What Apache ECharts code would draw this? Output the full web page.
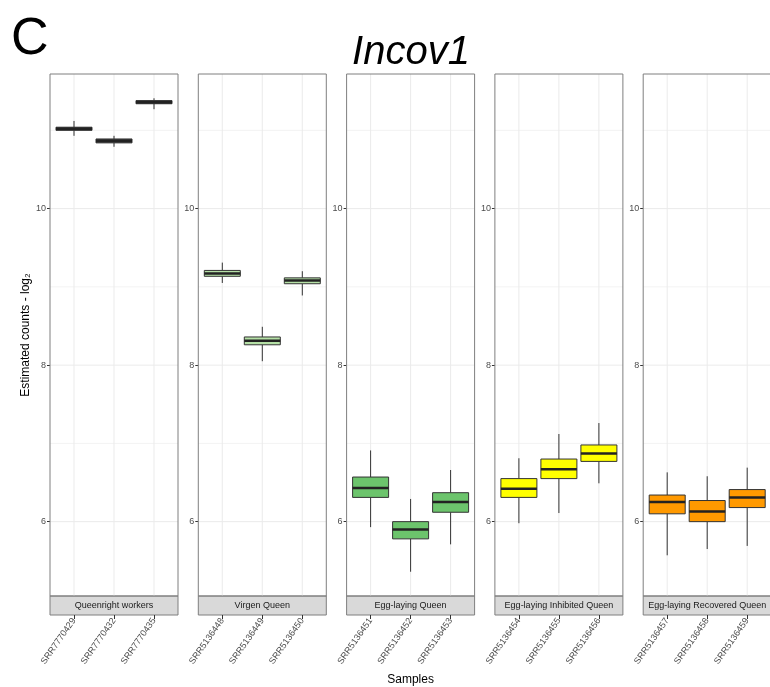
<!DOCTYPE html>
<html>
<head>
  <meta charset="utf-8">
  <title>Incov1</title>
  <style>
    html, body {
      margin: 0;
      padding: 0;
      background: #fff;
    }

    #chart {
      width: 770px;
      height: 687px;
    }
  </style>
</head>

<body>
  <div id="chart"></div>
</body>
<script src="https://cdn.jsdelivr.net/npm/echarts@6/dist/echarts.min.js"></script>
<script>
  var groups = ['Queenright workers', 'Virgen Queen', 'Egg-laying Queen', 'Egg-laying Inhibited Queen', 'Egg-laying Recovered Queen'];
  var samples = [
    ['SRR7770429', 'SRR7770432', 'SRR7770435'],
    ['SRR5136448', 'SRR5136449', 'SRR5136450'],
    ['SRR5136451', 'SRR5136452', 'SRR5136453'],
    ['SRR5136454', 'SRR5136455', 'SRR5136456'],
    ['SRR5136457', 'SRR5136458', 'SRR5136459']
  ];
  // min, Q1, median, Q3, max
  var queenrightWorkers = [
    [10.93, 11.00, 11.02, 11.04, 11.12],
    [10.79, 10.84, 10.865, 10.89, 10.93],
    [11.27, 11.34, 11.36, 11.38, 11.41]
  ];
  var virgenQueen = [
    [9.05, 9.135, 9.17, 9.21, 9.31],
    [8.05, 8.26, 8.31, 8.36, 8.49],
    [8.89, 9.04, 9.08, 9.115, 9.20]
  ];
  var eggLayingQueen = [
    [5.93, 6.31, 6.43, 6.57, 6.91],
    [5.36, 5.78, 5.90, 6.00, 6.29],
    [5.71, 6.12, 6.25, 6.37, 6.66]
  ];
  var eggLayingInhibited = [
    [5.98, 6.31, 6.42, 6.55, 6.81],
    [6.11, 6.55, 6.67, 6.80, 7.12],
    [6.49, 6.77, 6.87, 6.98, 7.26]
  ];
  var eggLayingRecovered = [
    [5.57, 6.10, 6.25, 6.34, 6.63],
    [5.65, 6.00, 6.13, 6.27, 6.58],
    [5.69, 6.18, 6.31, 6.41, 6.69]
  ];
  var boxStats = [queenrightWorkers, virgenQueen, eggLayingQueen, eggLayingInhibited, eggLayingRecovered];
  var fills = ['#3d3d3d', '#b5e0a6', '#6cc46c', '#ffff00', '#ff9900'];
  var yMin = 5.05;
  var yMax = 11.72;
  var majorBreaks = [6, 8, 10];
  var minorBreaks = [7, 9, 11];

  var chart = echarts.init(document.getElementById('chart'));
  var font = 'Liberation Sans, Arial, sans-serif';
  var panelLeft = 50, panelStep = 148.3, panelWidth = 128;
  var panelTop = 74, panelHeight = 522, stripHeight = 19;
  // ggplot expands a discrete axis by 0.6 of a step, echarts by 0.5: pad the grid inside the frame
  var pad = panelWidth / 3.2 * 0.1;
  var frame = '#7f7f7f';

  // box + whiskers + median, ggplot style (no whisker caps)
  function renderBox(params, api) {
    var x = api.value(0);
    var low = api.coord([x, api.value(1)]);
    var q1 = api.coord([x, api.value(2)]);
    var med = api.coord([x, api.value(3)]);
    var q3 = api.coord([x, api.value(4)]);
    var high = api.coord([x, api.value(5)]);
    var cs = params.coordSys;
    var half = 18;
    return {
      type: 'group',
      children: [
        { type: 'line', shape: { x1: low[0], y1: cs.y, x2: low[0], y2: cs.y + cs.height }, style: { stroke: '#ebebeb', lineWidth: 1 } },
        { type: 'line', shape: { x1: high[0], y1: high[1], x2: q3[0], y2: q3[1] }, style: { stroke: '#333', lineWidth: 1 } },
        { type: 'line', shape: { x1: q1[0], y1: q1[1], x2: low[0], y2: low[1] }, style: { stroke: '#333', lineWidth: 1 } },
        { type: 'rect', shape: { x: q3[0] - half, y: q3[1], width: half * 2, height: q1[1] - q3[1] }, style: { fill: api.visual('color'), stroke: '#333', lineWidth: 1 } },
        { type: 'line', shape: { x1: med[0] - half, y1: med[1], x2: med[0] + half, y2: med[1] }, style: { stroke: '#222', lineWidth: 2.5 } }
      ]
    };
  }

  // horizontal grid lines across the whole frame
  function renderHLine(params, api) {
    var p = api.coord([0, api.value(1)]);
    var cs = params.coordSys;
    var major = api.value(2) == 1;
    return {
      type: 'line',
      shape: { x1: cs.x - pad, y1: p[1], x2: cs.x + cs.width + pad, y2: p[1] },
      style: { stroke: major ? '#ebebeb' : '#f3f3f3', lineWidth: 1 }
    };
  }

  var hLines = majorBreaks.map(function (v) { return [0, v, 1]; })
    .concat(minorBreaks.map(function (v) { return [0, v, 0]; }));

  var grids = [], xAxes = [], yAxes = [], series = [], graphics = [];
  groups.forEach(function (name, i) {
    var left = panelLeft + i * panelStep;
    grids.push({
      left: left + pad, top: panelTop, width: panelWidth - 2 * pad, height: panelHeight,
      outerBoundsMode: 'none', containLabel: false, show: false
    });
    xAxes.push({
      type: 'category', gridIndex: i, data: samples[i], position: 'bottom', offset: stripHeight,
      axisLine: { show: false },
      axisTick: { show: true, alignWithLabel: true, length: 4, lineStyle: { color: '#333' } },
      axisLabel: { rotate: 55, fontSize: 9, color: '#4d4d4d', fontFamily: font, margin: 4, interval: 0 },
      splitLine: { show: false },
      name: i == 2 ? 'Samples' : '', nameLocation: 'middle', nameGap: 58,
      nameTextStyle: { fontSize: 12, color: '#000', fontFamily: font }
    });
    yAxes.push({
      type: 'value', gridIndex: i, min: yMin, max: yMax, splitNumber: 3, offset: pad,
      axisLine: { show: false },
      axisTick: { show: true, length: 3, lineStyle: { color: '#333' } },
      axisLabel: { fontSize: 9, color: '#4d4d4d', fontFamily: font, margin: 4, showMinLabel: false, showMaxLabel: false },
      splitLine: { show: false },
      name: i == 0 ? 'Estimated counts - log\u2082' : '', nameLocation: 'middle', nameGap: 17, nameRotate: 90,
      nameTextStyle: { fontSize: 12, color: '#000', fontFamily: font }
    });
    series.push({
      type: 'custom', xAxisIndex: i, yAxisIndex: i, z: 1, silent: true,
      renderItem: renderHLine,
      data: hLines,
      encode: { x: 0, y: 1 }
    });
    series.push({
      type: 'custom', name: name, xAxisIndex: i, yAxisIndex: i, z: 2,
      renderItem: renderBox,
      itemStyle: { color: fills[i] },
      data: boxStats[i].map(function (b, j) { return [j].concat(b); }),
      encode: { x: 0, y: [1, 2, 3, 4, 5] }
    });
    // panel frame
    graphics.push({
      type: 'rect', silent: true, z: 10,
      shape: { x: left, y: panelTop, width: panelWidth, height: panelHeight },
      style: { fill: 'none', stroke: frame, lineWidth: 1 }
    });
    // facet strip below the panel
    graphics.push({
      type: 'rect', silent: true,
      shape: { x: left, y: panelTop + panelHeight, width: panelWidth, height: stripHeight },
      style: { fill: '#d9d9d9', stroke: frame, lineWidth: 1 }
    });
    graphics.push({
      type: 'text', silent: true,
      x: left + panelWidth / 2, y: panelTop + panelHeight + stripHeight / 2,
      style: { text: name, fill: '#1a1a1a', fontSize: 9, fontFamily: font, align: 'center', verticalAlign: 'middle' }
    });
  });

  var option = {
    backgroundColor: '#fff',
    animation: false,
    title: [
      { text: 'C', left: 6, top: 9, textStyle: { fontSize: 52, fontWeight: 'normal', color: '#000', fontFamily: font } },
      { text: 'Incov1', left: 406, top: 28, textAlign: 'center', textStyle: { fontSize: 40, fontStyle: 'italic', fontWeight: 'normal', color: '#000', fontFamily: font } }
    ],
    grid: grids,
    xAxis: xAxes,
    yAxis: yAxes,
    series: series,
    graphic: graphics
  };
  chart.setOption(option);
</script>

</html>
